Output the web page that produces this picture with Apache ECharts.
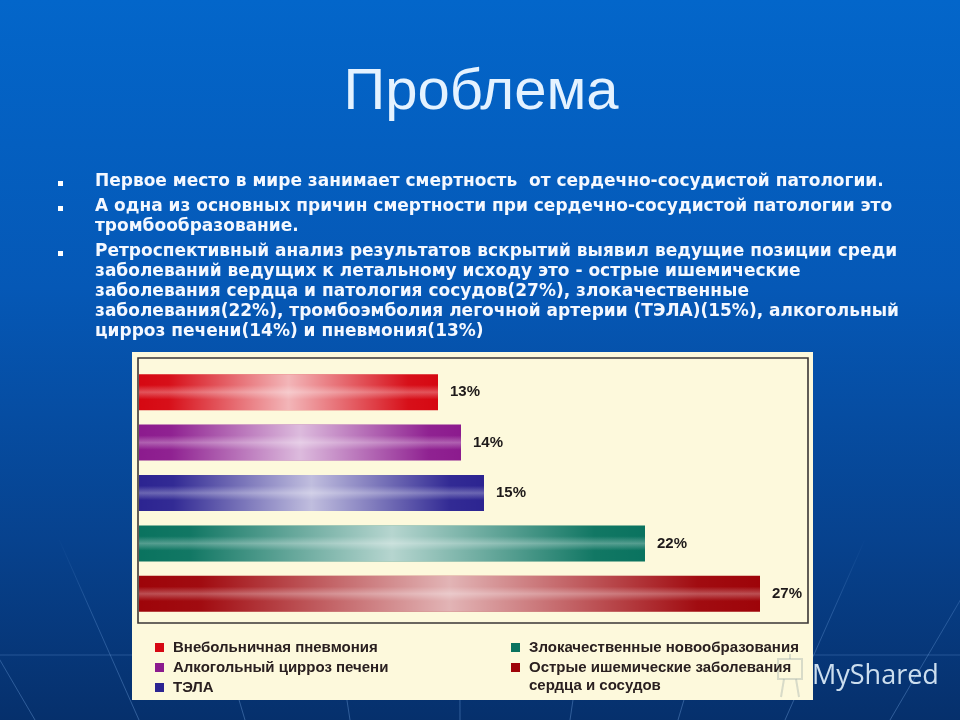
<!DOCTYPE html>
<html><head><meta charset="utf-8">
<script src="https://cdn.jsdelivr.net/npm/echarts@6/dist/echarts.min.js"></script>
<style>html,body{margin:0;padding:0;background:#0558b5}#c{width:960px;height:720px}</style>
</head><body><div id="c"></div>
<script>
// ---- data ----
const titleText = 'Проблема';
const bulletParagraphs = [
  ['Первое место в мире занимает смертность  от сердечно-сосудистой патологии.'],
  ['А одна из основных причин смертности при сердечно-сосудистой патологии это', 'тромбообразование.'],
  ['Ретроспективный анализ результатов вскрытий выявил ведущие позиции среди',
   'заболеваний ведущих к летальному исходу это - острые ишемические',
   'заболевания сердца и патология сосудов(27%), злокачественные',
   'заболевания(22%), тромбоэмболия легочной артерии (ТЭЛА)(15%), алкогольный',
   'цирроз печени(14%) и пневмония(13%)']
];
const categories = ['Внебольничная пневмония', 'Алкогольный цирроз печени', 'ТЭЛА',
  'Злокачественные новообразования', 'Острые ишемические заболевания\nсердца и сосудов'];
const values = [13, 14, 15, 22, 27];
const colors = ['#d60812', '#8c1b8e', '#2c2491', '#0a735f', '#9e0409'];
const watermark = 'MyShared';

// ---- helpers ----
function mix(hex, t) {
  const n = parseInt(hex.slice(1), 16);
  const r = (n >> 16) & 255, g = (n >> 8) & 255, b = n & 255;
  const f = c => Math.round(c + (255 - c) * t);
  return 'rgb(' + f(r) + ',' + f(g) + ',' + f(b) + ')';
}
const G = echarts.graphic;

const graphics = [];
// decorative perspective lines in the background
const VPx = 462, VPy = 1450;
[-70, 35, 139, 245, 350, 460, 570, 678, 785, 890, 995].forEach(xb => {
  const xAt = y => VPx + (xb - VPx) * (VPy - y) / (VPy - 720);
  graphics.push({ type: 'line', z: 0, silent: true,
    shape: { x1: xAt(540), y1: 540, x2: xAt(720), y2: 720 },
    style: { stroke: new G.LinearGradient(0, 0, 0, 1, [
      { offset: 0, color: 'rgba(130,180,240,0)' }, { offset: 0.4, color: 'rgba(130,180,240,0.25)' },
      { offset: 1, color: 'rgba(130,180,240,0.35)' }]), lineWidth: 1 } });
});
graphics.push({ type: 'line', z: 0, silent: true, shape: { x1: 0, y1: 655, x2: 960, y2: 655 },
  style: { stroke: 'rgba(130,180,240,0.25)', lineWidth: 1 } });

// title
graphics.push({ type: 'text', z: 5, x: 481, y: 93,
  style: { text: titleText, font: '58px "Liberation Sans", Arial, sans-serif', fill: '#e4f2ff',
    align: 'center', verticalAlign: 'middle',
    shadowColor: 'rgba(0,10,40,0.8)', shadowOffsetX: 3, shadowOffsetY: 3, shadowBlur: 3 } });

// bullets
const paraTop = [182, 207, 252];
bulletParagraphs.forEach((lines, p) => {
  graphics.push({ type: 'rect', z: 5, shape: { x: 58, y: paraTop[p] - 1, width: 5, height: 5 },
    style: { fill: '#ffffff' } });
  lines.forEach((ln, i) => {
    graphics.push({ type: 'text', z: 5, x: 95, y: paraTop[p] + i * 20,
      style: { text: ln, font: 'bold 17px "DejaVu Sans", sans-serif', fill: '#f4f8ff',
        verticalAlign: 'middle', shadowColor: 'rgba(0,0,40,0.5)', shadowOffsetX: 1, shadowOffsetY: 1, shadowBlur: 1 } });
  });
});

// chart panel
graphics.push({ type: 'rect', z: 0, silent: true, shape: { x: 132, y: 352, width: 681, height: 348 },
  style: { fill: '#fdf9dc' } });
graphics.push({ type: 'rect', z: 1, silent: true, shape: { x: 138, y: 358, width: 670, height: 265 },
  style: { fill: 'none', stroke: '#3a3636', lineWidth: 1.6 } });
// second line of the last legend entry
graphics.push({ type: 'text', z: 5, x: 529, y: 686,
  style: { text: categories[4].split('\n')[1], font: 'bold 15px "Liberation Sans", Arial, sans-serif',
    fill: '#2a2020', verticalAlign: 'middle' } });

// watermark
graphics.push({ type: 'text', z: 6, x: 812, y: 676,
  style: { text: watermark, font: '27px "Open Sans", sans-serif', fill: 'rgba(215,232,246,0.95)', verticalAlign: 'middle' } });
graphics.push({ type: 'group', z: 6, silent: true, children: [
  { type: 'rect', shape: { x: 778, y: 659, width: 24, height: 20 }, style: { fill: 'none', stroke: 'rgba(160,175,170,0.4)', lineWidth: 2 } },
  { type: 'line', shape: { x1: 784, y1: 679, x2: 781, y2: 697 }, style: { stroke: 'rgba(160,175,170,0.4)', lineWidth: 2 } },
  { type: 'line', shape: { x1: 796, y1: 679, x2: 799, y2: 697 }, style: { stroke: 'rgba(160,175,170,0.4)', lineWidth: 2 } },
  { type: 'line', shape: { x1: 790, y1: 654, x2: 790, y2: 659 }, style: { stroke: 'rgba(160,175,170,0.4)', lineWidth: 2 } }
] });

const series = values.map((v, i) => ({
  type: 'bar', name: categories[i], stack: 'bars', barWidth: 36, z: 2,
  data: values.map((w, j) => (j === i ? w : '-')),
  itemStyle: { color: new G.LinearGradient(0, 0, 0, 1, [
    { offset: 0, color: colors[i] }, { offset: 0.3, color: colors[i] }, { offset: 0.5, color: mix(colors[i], 0.3) },
    { offset: 0.7, color: colors[i] }, { offset: 1, color: colors[i] }]) },
  label: { show: true, position: 'right', distance: 12, formatter: p => p.value + '%',
    color: '#1e1a1a', fontWeight: 'bold', fontSize: 15,
    fontFamily: '"Liberation Sans", Arial, sans-serif' }
}));
series.push({
  type: 'bar', name: 'glow', barWidth: 36, barGap: '-100%', z: 3, silent: true,
  data: values,
  itemStyle: { color: new G.LinearGradient(0, 0, 1, 0, [
    { offset: 0, color: 'rgba(255,255,255,0)' }, { offset: 0.1, color: 'rgba(255,255,255,0.03)' },
    { offset: 0.5, color: 'rgba(255,255,255,0.7)' }, { offset: 0.9, color: 'rgba(255,255,255,0.03)' },
    { offset: 1, color: 'rgba(255,255,255,0)' }]) }
});

const legendText = { fontSize: 15, fontWeight: 'bold', color: '#2a2020', fontFamily: '"Liberation Sans", Arial, sans-serif',
  padding: [0, 0, 0, 4] };
const option = {
  backgroundColor: new G.LinearGradient(0, 0, 0, 1, [
    { offset: 0, color: '#0366ca' }, { offset: 0.4, color: '#0558b6' }, { offset: 0.75, color: '#07428e' }, { offset: 1, color: '#06306c' }]),
  animation: false,
  grid: { left: 139, top: 367, width: 690, height: 252, containLabel: false },
  xAxis: { type: 'value', min: 0, max: 30, show: false },
  yAxis: { type: 'category', data: categories, inverse: true, show: false },
  legend: [
    { orient: 'vertical', left: 150, top: 635, itemWidth: 9, itemHeight: 9, itemGap: 5, icon: 'rect',
      selectedMode: false, textStyle: legendText,
      data: categories.slice(0, 3).map((n, i) => ({ name: n, itemStyle: { color: colors[i] } })) },
    { orient: 'vertical', left: 506, top: 635, itemWidth: 9, itemHeight: 9, itemGap: 5, icon: 'rect',
      selectedMode: false, textStyle: legendText, formatter: n => n.split('\n')[0],
      data: categories.slice(3).map((n, i) => ({ name: n, itemStyle: { color: colors[i + 3] } })) }
  ],
  graphic: graphics,
  series: series
};
const chart = echarts.init(document.getElementById('c'), null, { renderer: 'canvas' });
chart.setOption(option);
</script></body></html>
